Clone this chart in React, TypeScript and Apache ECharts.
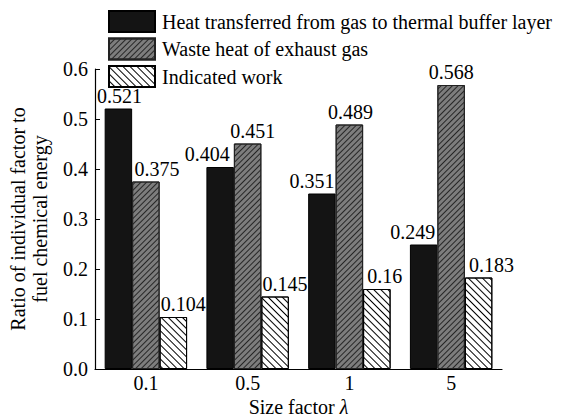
import React, { useEffect, useRef } from "react";
import * as echarts from "echarts";

// Size factor categories along the x axis
const sizeFactors = ["0.1", "0.5", "1", "5"];

// Share of fuel chemical energy for each loss / work term
const heatToBufferLayer = [0.521, 0.404, 0.351, 0.249];
const exhaustWasteHeat = [0.375, 0.451, 0.489, 0.568];
const indicatedWork = [0.104, 0.145, 0.16, 0.183];

const seriesNames = [
  "Heat transferred from gas to thermal buffer layer",
  "Waste heat of exhaust gas",
  "Indicated work",
];

const yTicks = [0, 0.1, 0.2, 0.3, 0.4, 0.5, 0.6];

// horizontal nudges of the value labels so neighbours do not collide
const labelShift = [
  [1, -13, -10, -11],
  [11, 5, 1, 0],
  [10, 10, 8, 13],
];

const FONT = "Liberation Serif";
const FS = 20;

export default function App() {
  const ref = useRef<HTMLDivElement>(null);

  useEffect(() => {
    if (!ref.current) return;
    document.body.style.margin = "0";
    const chart = echarts.init(ref.current, undefined, { renderer: "svg" });

    const makeData = (vals: number[], s: number) =>
      vals.map((v, i) => ({
        value: v,
        label: { offset: [labelShift[s][i], 0] },
      }));

    const labelStyle = {
      show: true,
      position: "top" as const,
      distance: 3,
      color: "#000",
      fontFamily: FONT,
      fontSize: FS,
      formatter: (p: any) => String(p.value),
    };

    const option: any = {
      animation: false,
      backgroundColor: "#fff",
      textStyle: { fontFamily: FONT },
      legend: {
        orient: "vertical",
        left: 108,
        top: 10,
        padding: 0,
        itemWidth: 46,
        itemHeight: 21,
        itemGap: 4.5,
        icon: "rect",
        selectedMode: false,
        data: seriesNames,
        textStyle: {
          fontFamily: FONT,
          fontSize: FS,
          lineHeight: 21,
          color: "#000",
          padding: [0, 0, 0, 2],
        },
      },
      grid: {
        left: 95,
        right: 81,
        top: 69,
        bottom: 48,
        containLabel: false,
        outerBoundsMode: "none",
      },
      xAxis: {
        type: "category",
        data: sizeFactors,
        axisLine: { lineStyle: { color: "#000", width: 1.2 } },
        axisTick: { show: false },
        axisLabel: { color: "#000", fontFamily: FONT, fontSize: FS, margin: 4 },
        name: "Size factor {i|λ}",
        nameLocation: "middle",
        nameGap: 28,
        nameMoveOverlap: false,
        nameTextStyle: {
          color: "#000",
          fontFamily: FONT,
          fontSize: FS,
          rich: { i: { fontStyle: "italic", fontFamily: FONT, fontSize: FS, color: "#000" } },
        },
      },
      yAxis: {
        type: "value",
        min: yTicks[0],
        max: yTicks[yTicks.length - 1],
        interval: 0.1,
        splitLine: { show: false },
        axisLine: { show: true, lineStyle: { color: "#000", width: 1.2 } },
        axisTick: { show: true, inside: true, length: 5, lineStyle: { color: "#000" } },
        axisLabel: {
          color: "#000",
          fontFamily: FONT,
          fontSize: FS,
          margin: 7,
          formatter: (v: number) => v.toFixed(1),
        },
        name: "Ratio of individual factor to\nfuel chemical energy",
        nameLocation: "middle",
        nameGap: 44,
        nameTextStyle: { color: "#000", fontFamily: FONT, fontSize: FS, lineHeight: 22 },
      },
      series: [
        {
          name: seriesNames[0],
          type: "bar",
          barGap: "0%",
          barCategoryGap: "19%",
          data: makeData(heatToBufferLayer, 0),
          itemStyle: { color: "#141414", borderColor: "#000", borderWidth: 1 },
          label: labelStyle,
        },
        {
          name: seriesNames[1],
          type: "bar",
          data: makeData(exhaustWasteHeat, 1),
          itemStyle: {
            color: "#7d7d7d",
            borderColor: "#222",
            borderWidth: 1,
            decal: {
              symbol: "rect",
              color: "#262626",
              dashArrayX: [1, 0],
              dashArrayY: [1, 2.5],
              rotation: -Math.PI / 4,
            },
          },
          label: labelStyle,
        },
        {
          name: seriesNames[2],
          type: "bar",
          data: makeData(indicatedWork, 2),
          itemStyle: {
            color: "#fff",
            borderColor: "#000",
            borderWidth: 1,
            decal: {
              symbol: "rect",
              color: "#000",
              dashArrayX: [1, 0],
              dashArrayY: [1, 3.5],
              rotation: Math.PI / 4,
            },
          },
          label: labelStyle,
        },
      ],
    };

    chart.setOption(option);
    return () => chart.dispose();
  }, []);

  return (
    <>
      <style>{"#ratio-chart text, #ratio-chart tspan { font-family: 'Liberation Serif', 'Times New Roman', serif !important; }"}</style>
      <div id="ratio-chart" ref={ref} style={{ width: 583, height: 417 }} />
    </>
  );
}
